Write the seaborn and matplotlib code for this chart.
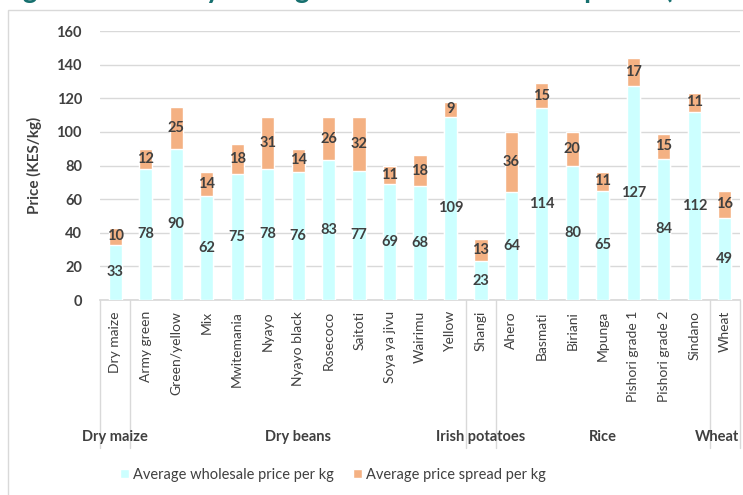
import numpy as np
import pandas as pd
import matplotlib
matplotlib.use("Agg")
import matplotlib.pyplot as plt
import matplotlib.transforms as mtransforms
from matplotlib.patches import Patch, Rectangle
import seaborn as sns

# 품목별 도매가격 / 가격 스프레드 (KES/kg)
varieties = ["Dry maize", "Army green", "Green/yellow", "Mix", "Mwitemania", "Nyayo",
             "Nyayo black", "Rosecoco", "Saitoti", "Soya ya jivu", "Wairimu", "Yellow",
             "Shangi", "Ahero", "Basmati", "Biriani", "Mpunga", "Pishori grade 1",
             "Pishori grade 2", "Sindano", "Wheat"]
commodities = ["Dry maize"] + ["Dry beans"] * 11 + ["Irish potatoes"] + ["Rice"] * 7 + ["Wheat"]
wholesale = [33, 78, 90, 62, 75, 78, 76, 83, 77, 69, 68, 109, 23, 64, 114, 80, 65, 127, 84, 112, 49]
spread = [10, 12, 25, 14, 18, 31, 14, 26, 32, 11, 18, 9, 13, 36, 15, 20, 11, 17, 15, 11, 16]
y_ticks = [0, 20, 40, 60, 80, 100, 120, 140, 160]

CYAN = "#ccffff"
ORANGE = "#f4b183"
TEXT = "#404040"
GRID = "#d9d9d9"

sns.set_theme(style="white")
plt.rcParams["font.family"] = ["Lato", "DejaVu Sans"]

df = pd.DataFrame({"variety": varieties, "commodity": commodities,
                   "wholesale": wholesale, "spread": spread})
df["total"] = df["wholesale"] + df["spread"]

fig = plt.figure(figsize=(7.43, 4.95), dpi=100)
ax = fig.add_axes([100 / 743, 1 - 300 / 495, 640 / 743, 269 / 495])

# 합계(주황) 위에 도매가(하늘색)를 덮어 누적 막대 표현
sns.barplot(data=df, x="variety", y="total", color=ORANGE, width=0.43,
            saturation=1, ax=ax, zorder=2)
sns.barplot(data=df, x="variety", y="wholesale", color=CYAN, width=0.43,
            saturation=1, ax=ax, zorder=3)

# 값 라벨
for i, r in df.iterrows():
    ax.text(i, r["wholesale"] / 2, f"{r['wholesale']}", ha="center", va="center",
            fontsize=10.5, fontweight="bold", color=TEXT, zorder=4)
    ax.text(i, r["wholesale"] + r["spread"] / 2, f"{r['spread']}", ha="center",
            va="center", fontsize=10.5, fontweight="bold", color=TEXT, zorder=4)

ax.set_ylim(0, 160)
ax.set_xlim(-0.5, len(df) - 0.5)
ax.set_yticks(y_ticks)
ax.tick_params(axis="y", length=0, pad=13, labelsize=10.5, labelcolor=TEXT)
for lbl in ax.get_yticklabels():
    lbl.set_fontweight("bold")
ax.yaxis.grid(True, color=GRID, linewidth=1)
ax.set_axisbelow(True)
ax.set_xlabel("")
ax.set_ylabel("Price (KES/kg)", fontsize=11, color=TEXT, fontweight="bold")
ax.yaxis.set_label_coords(-0.09, 0.5)
ax.set_xticks(range(len(df)))
ax.set_xticklabels(varieties, rotation=90, fontsize=10, color=TEXT, va="top")
ax.tick_params(axis="x", length=0, pad=8)
for s in ["top", "right", "left"]:
    ax.spines[s].set_visible(False)
ax.spines["bottom"].set_color(GRID)

# 품목 그룹 구분선 및 라벨
trans = mtransforms.blended_transform_factory(ax.transData, ax.transAxes)
groups = df.groupby("commodity", sort=False).apply(lambda g: (g.index.min(), g.index.max()),
                                                   include_groups=False)
edges = [-0.5] + [hi + 0.5 for lo, hi in groups]
for e in edges:
    ax.plot([e, e], [0, -0.55], transform=trans, color=GRID, linewidth=1, clip_on=False)
for name, (lo, hi) in groups.items():
    xc = min((lo + hi) / 2, len(df) - 1.25)
    ax.text(xc, -0.51, name, transform=trans, ha="center", va="center",
            fontsize=10.5, fontweight="bold", color=TEXT)

# 잘린 제목 (원본에서도 위쪽이 잘려 있음) / 외곽선
fig.text(0.0, 1 + 2 / 495, "Figure 3: Monthly average wholesale and retail prices (KES/kg)",
         fontsize=20, fontweight="bold", color="#17706f", va="baseline", ha="left")
fig.patches.append(Rectangle((8 / 743, -0.01), 1.0, 1 - 10 / 495 + 0.01,
                             transform=fig.transFigure, fill=False,
                             edgecolor=GRID, linewidth=1))

handles = [Patch(facecolor=CYAN, label="Average wholesale price per kg"),
           Patch(facecolor=ORANGE, label="Average price spread per kg")]
fig.legend(handles=handles, loc="center", bbox_to_anchor=(333 / 743, 1 - 475 / 495),
           ncol=2, frameon=False, handlelength=0.6, handleheight=0.6, handletextpad=0.3,
           columnspacing=1.3, fontsize=10.5, labelcolor=TEXT)

fig.savefig("out.png", dpi=100)
